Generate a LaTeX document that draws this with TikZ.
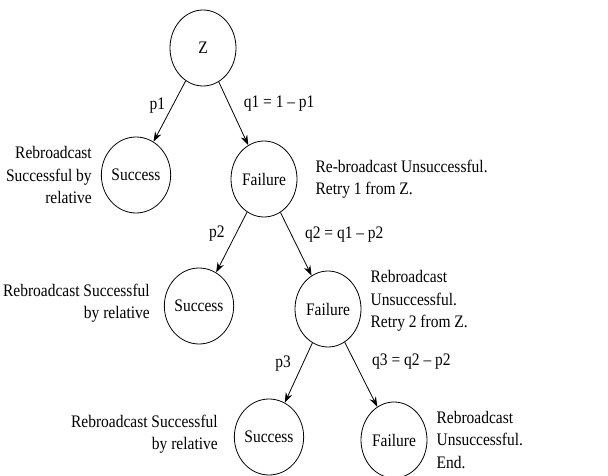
\documentclass[tikz,border=0pt]{standalone}
\usepackage{fontspec}
\setmainfont{Liberation Serif}[FakeStretch=0.88]
\usetikzlibrary{positioning}
\usetikzlibrary{shapes.geometric, arrows.meta}

\begin{document}
\begin{tikzpicture}[x=1pt, y=-1pt, font=\fontsize{17.6}{22.5}\selectfont]
        \tikzset{
            outcome/.style={draw, ellipse, minimum width=66pt, minimum height=76pt, inner sep=0pt, line width=0.8pt},
            branch/.style={->, >={Stealth[length=10pt, width=7pt]}, line width=0.8pt},
            note/.style={inner sep=0pt},
        }
        \useasboundingbox (0,0) rectangle (608,476);

        % Nodo raíz
        \node[outcome] (z) at (203,48) {Z};

        % Primer intento
        \node[outcome] (s1) at (136,175) {Success};
        \node[outcome] (f1) at (264,179) {Failure};

        % Segundo intento
        \node[outcome] (s2) at (199,306) {Success};
        \node[outcome] (f2) at (328,309) {Failure};

        % Tercer intento
        \node[outcome] (s3) at (269,437) {Success};
        \node[outcome] (f3) at (394,440) {Failure};

        % Ramas con probabilidades
        \draw[branch] (z) -- (s1) node[pos=0.4, left=4pt] (lp1) {p1};
        \draw[branch] (z) -- (f1) node[pos=0.35, right=11pt] (lq1) {q1 = 1 -- p1};
        \draw[branch] (f1) -- (s2) node[pos=0.35, left=8pt] (lp2) {p2};
        \draw[branch] (f1) -- (f2) node[pos=0.35, right=10pt] (lq2) {q2 = q1 -- p2};
        \draw[branch] (f2) -- (s3) node[pos=0.35, left=8pt] (lp3) {p3};
        \draw[branch] (f2) -- (f3) node[pos=0.3, right=14pt] (lq3) {q3 = q2 -- p2};

        % Comentarios
        \node[note, align=right, left=9pt of s1] (ns1) {Rebroadcast\\Successful by\\relative};
        \node[note, align=left, right=18pt of f1] (nf1) {Re-broadcast Unsuccessful.\\Retry 1 from Z.};
        \node[note, align=right, left=14pt of s2, yshift=3pt] (ns2) {Rebroadcast Successful\\by relative};
        \node[note, align=left, right=9pt of f2, yshift=8pt] (nf2) {Rebroadcast\\Unsuccessful.\\Retry 2 from Z.};
        \node[note, align=right, left=16pt of s3, yshift=3pt] (ns3) {Rebroadcast Successful\\by relative};
        \node[note, align=left, right=9pt of f3] (nf3) {Rebroadcast\\Unsuccessful.\\End.};

    \end{tikzpicture}
\end{document}
